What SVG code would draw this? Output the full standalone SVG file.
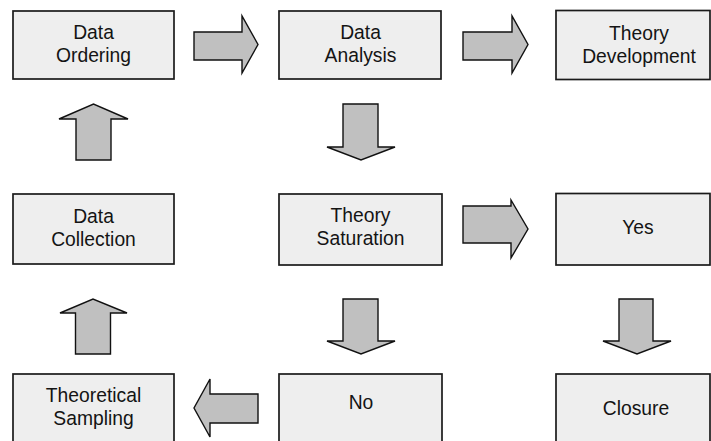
<svg xmlns="http://www.w3.org/2000/svg" width="711" height="441" viewBox="0 0 711 441">
  <style>
    .box { fill: #eeeeee; stroke: #1a1a1a; stroke-width: 1.7; }
    .lbl { font-family: "Liberation Sans", Arial, sans-serif; font-size: 19.3px; fill: #141414; text-anchor: middle; }
    .arr { fill: #c0c0c0; stroke: #111111; stroke-width: 1.4; stroke-linejoin: miter; }
  </style>
  <rect width="711" height="441" fill="#ffffff"/>

  <!-- process steps -->
  <g id="data-ordering">
    <rect class="box" x="13" y="11" width="161" height="68"/>
    <text class="lbl" x="93.5" y="39">Data</text>
    <text class="lbl" x="93.5" y="62">Ordering</text>
  </g>
  <g id="data-analysis">
    <rect class="box" x="279" y="11" width="162" height="68"/>
    <text class="lbl" x="360.5" y="39">Data</text>
    <text class="lbl" x="360.5" y="62">Analysis</text>
  </g>
  <g id="theory-development">
    <rect class="box" x="556" y="10.5" width="154" height="69"/>
    <text class="lbl" x="639" y="40">Theory</text>
    <text class="lbl" x="639" y="63">Development</text>
  </g>
  <g id="data-collection">
    <rect class="box" x="13" y="194" width="161" height="70"/>
    <text class="lbl" x="93.5" y="222.5">Data</text>
    <text class="lbl" x="93.5" y="245.5">Collection</text>
  </g>
  <g id="theory-saturation">
    <rect class="box" x="279" y="194" width="163" height="71"/>
    <text class="lbl" x="360.5" y="222">Theory</text>
    <text class="lbl" x="360.5" y="245">Saturation</text>
  </g>
  <g id="yes">
    <rect class="box" x="556" y="193.5" width="154" height="71.5"/>
    <text class="lbl" x="638" y="233.5">Yes</text>
  </g>
  <g id="theoretical-sampling">
    <rect class="box" x="13" y="374" width="161" height="80"/>
    <text class="lbl" x="93.5" y="401.5">Theoretical</text>
    <text class="lbl" x="93.5" y="425">Sampling</text>
  </g>
  <g id="no">
    <rect class="box" x="279" y="374" width="163" height="80"/>
    <text class="lbl" x="361" y="408.5">No</text>
  </g>
  <g id="closure">
    <rect class="box" x="556" y="374" width="154" height="80"/>
    <text class="lbl" x="636" y="415">Closure</text>
  </g>

  <!-- block arrows -->
  <g id="connectors">
    <!-- Data Ordering to Data Analysis -->
    <polygon class="arr" points="194,32 242,32 242,16 258,44.5 242,73 242,60 194,60"/>
    <!-- Data Analysis to Theory Development -->
    <polygon class="arr" points="463,32 512,32 512,16 528,44.5 512,73 512,60 463,60"/>
    <!-- Theory Saturation to Yes -->
    <polygon class="arr" points="463,206 511,206 511,200 528,229 511,258 511,243 463,243"/>
    <!-- No to Theoretical Sampling -->
    <polygon class="arr" points="258,394 210,394 210,379 194,408 210,437 210,423 258,423"/>
    <!-- Data Analysis to Theory Saturation -->
    <polygon class="arr" points="343,104 378,104 378,147 395,147 361,160 327,147 343,147"/>
    <!-- Theory Saturation to No -->
    <polygon class="arr" points="343,299 378,299 378,341 395,341 361,354 327,341 343,341"/>
    <!-- Yes to Closure -->
    <polygon class="arr" points="619,299 653,299 653,341 671,341 637,354 603,341 619,341"/>
    <!-- Data Collection to Data Ordering -->
    <polygon class="arr" points="76,160 111,160 111,119 128,119 93.5,104 59,119 76,119"/>
    <!-- Theoretical Sampling to Data Collection -->
    <polygon class="arr" points="75.5,354 110.5,354 110.5,313 127,313 93,299 60,313 75.5,313"/>
  </g>
</svg>
